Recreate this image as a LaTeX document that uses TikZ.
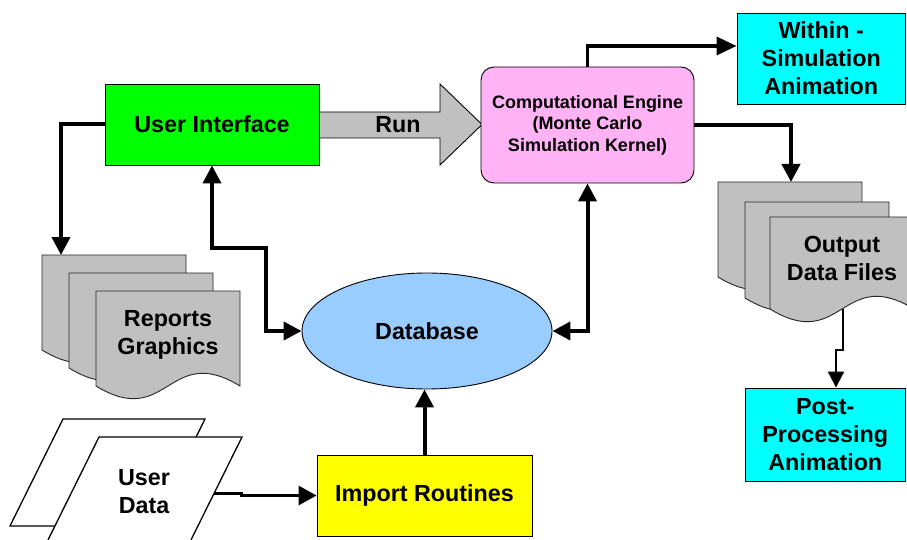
\documentclass[tikz,border=0pt]{standalone}
\usepackage{fontspec}
\setmainfont{Liberation Sans}
\usetikzlibrary{arrows.meta,shapes.geometric,calc}

\definecolor{uigreen}{RGB}{0,255,0}
\definecolor{enginepink}{RGB}{255,179,245}
\definecolor{animcyan}{RGB}{0,255,255}
\definecolor{importyellow}{RGB}{255,255,0}
\definecolor{dbblue}{RGB}{153,204,255}
\definecolor{sheetgray}{RGB}{192,192,192}

% a stacked "document" sheet with a wavy lower edge: left, top, width, height
\newcommand\docsheet[4]{%
  \filldraw[sheet] (#1,#2) -- ({#1+#3},#2) -- ({#1+#3},{#2+#4})
    .. controls ({#1+0.5*#3},{#2+#4-44}) and ({#1+0.5*#3},{#2+#4+44}) .. (#1,{#2+#4}) -- cycle;}

\begin{document}
\begin{tikzpicture}[x=1pt,y=-1pt,
  lbl/.style={font=\fontsize{23.3}{28}\selectfont\bfseries, align=center},
  box/.style={draw=black, line width=0.9pt, inner sep=0pt, lbl},
  sheet/.style={fill=sheetgray, draw=black!85, line width=0.9pt},
  conn/.style={line width=4pt, -{Triangle[length=18pt,width=18pt]}},
  biconn/.style={line width=4pt, {Triangle[length=18pt,width=18pt]}-{Triangle[length=18pt,width=18pt]}},
  thinconn/.style={line width=2pt, -{Triangle[length=16pt,width=16pt]}}]

\useasboundingbox (0,0) rectangle (907,540);

% block arrow "Run"
\filldraw[fill=sheetgray, draw=black, line width=0.9pt]
  (319,112) -- (440,112) -- (440,84) -- (482,124.5) -- (440,165) -- (440,138) -- (319,138) -- cycle;
\node[lbl] (run) at (398,125) {Run};

% main blocks
\node[box, fill=uigreen, minimum width=214pt, minimum height=81pt] (ui) at (212,124.5) {User Interface};
\node[box, fill=enginepink, rounded corners=13pt, minimum width=213pt, minimum height=116pt,
      font=\fontsize{18}{21.5}\selectfont\bfseries] (engine) at (587.5,125)
      {Computational Engine\\(Monte Carlo\\Simulation Kernel)};
\node[box, fill=animcyan, minimum width=168.5pt, minimum height=91pt] (within) at (821.25,58.5)
      {Within -\\Simulation\\Animation};
\node[box, fill=animcyan, minimum width=160.5pt, minimum height=93pt] (post) at (825.25,434.5)
      {Post-\\Processing\\Animation};
\node[box, ellipse, fill=dbblue, minimum width=250pt, minimum height=116pt] (db) at (427,331) {Database};
\node[box, fill=importyellow, minimum width=215pt, minimum height=81pt] (import) at (424.5,495.5) {Import Routines};

% report sheets
\docsheet{42}{255}{144}{95}
\docsheet{69}{273}{144}{95}
\docsheet{96}{291}{144}{95}
\node[lbl] (reports) at (168,335) {Reports\\Graphics};
\coordinate (reptop) at (61,255);

% output data sheets
\docsheet{718}{182}{144}{95}
\docsheet{745}{202}{144}{96}
\docsheet{770}{217}{144}{92}
\node[lbl] (outfiles) at (842,258) {Output\\Data Files};
\coordinate (outtop) at (791,182);
\coordinate (outbot) at (843,309);

% user data sheets
\filldraw[fill=white, draw=black, line width=1.3pt] (63,419) -- (205,419) -- (152,526) -- (10,526) -- cycle;
\filldraw[fill=white, draw=black, line width=1.3pt] (99,437) -- (242,437) -- (189,544) -- (46,544) -- cycle;
\node[lbl] (userdata) at (144,492) {User\\Data};
\coordinate (udout) at (214,493);

% connectors
\draw[conn] (ui.west) -| (reptop);
\coordinate (uijog) at (266,248);
\draw[biconn] (db.west) -| (uijog) -| (ui.south);
\draw[biconn] (db.east) -| (engine.south);
\draw[line width=3.5pt, -{Triangle[length=20pt,width=18pt]}] (engine.north) |- ([yshift=12.5pt]within.west);
\draw[conn] (engine.east) -| (outtop);
\draw[thinconn] (outbot) -- (843,350) -- (836,350) -- ([xshift=10.75pt]post.north);
\draw[line width=3pt, -{Triangle[length=18pt,width=19pt]}] (udout) -- (241,493) |- (import.west);
\draw[conn] (import.north) -- (import.north |- db.south);

\end{tikzpicture}
\end{document}
